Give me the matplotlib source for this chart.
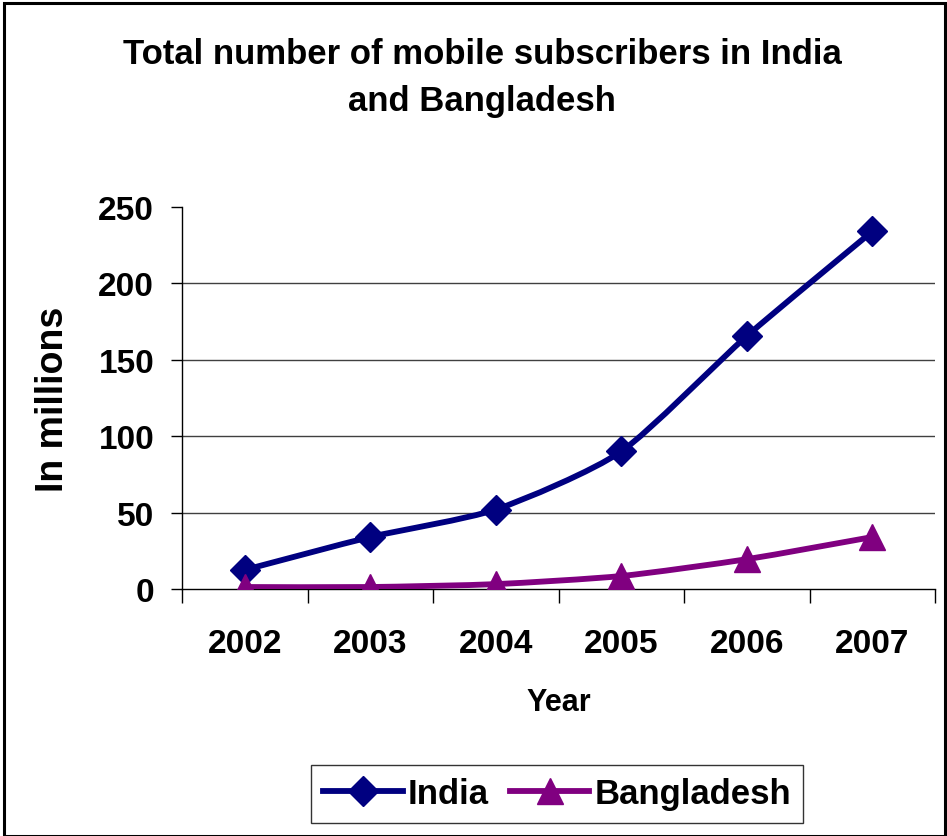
import numpy as np
import matplotlib
matplotlib.use("Agg")
import matplotlib.pyplot as plt
from matplotlib.path import Path
from matplotlib.patches import PathPatch, Rectangle
from matplotlib.lines import Line2D

# data
years = ["2002", "2003", "2004", "2005", "2006", "2007"]
india = [12.5, 34, 52, 90, 165.5, 234]
bangladesh = [1.3, 1.3, 3.2, 8.5, 19.5, 34]

plt.rcParams['font.family'] = ['Liberation Sans', 'DejaVu Sans']
plt.rcParams['font.weight'] = 'bold'


def smooth_path(xs, ys, k=9.0):
    # excel-style smoothed line, drawn as cubic bezier segments
    pts = np.column_stack([xs, ys]).astype(float)
    n = len(pts)
    verts = [pts[0]]
    codes = [Path.MOVETO]
    for i in range(n - 1):
        p0 = pts[i - 1] if i > 0 else pts[i]
        p1 = pts[i]
        p2 = pts[i + 1]
        p3 = pts[i + 2] if i + 2 < n else pts[i + 1]
        c1 = p1 + (p2 - p0) / k
        c2 = p2 - (p3 - p1) / k
        verts += [c1, c2, p2]
        codes += [Path.CURVE4] * 3
    return Path(verts, codes)


fig = plt.figure(figsize=(9.47, 8.37), dpi=100)
ax = fig.add_axes([182/947, 1 - 590/837, 753/947, 382/837])

x = np.arange(len(years))
navy = "#000080"
purple = "#800080"

for vals, col, mk, ms in [(india, navy, 'D', 15), (bangladesh, purple, '^', 19)]:
    ax.add_patch(PathPatch(smooth_path(x, vals), fill=False, edgecolor=col,
                           lw=4.2, capstyle='round', joinstyle='round', zorder=3))
    ax.plot(x, vals, linestyle='none', marker=mk, markersize=ms, color=col, zorder=4)

ax.set_xlim(-0.5, 5.5)
ax.set_ylim(0, 250)
ax.set_yticks([0, 50, 100, 150, 200, 250])
ax.set_xticks(x)
ax.set_xticklabels(years)
ax.set_xticks(np.arange(-0.5, 6, 1), minor=True)
ax.tick_params(axis='x', which='major', length=0, pad=28, labelsize=24)
ax.tick_params(axis='x', which='minor', length=10, width=1, direction='out')
ax.tick_params(axis='y', length=8, width=1, direction='out', labelsize=24, pad=12)

for y in [50, 100, 150, 200]:
    ax.axhline(y, color='#404040', lw=1, zorder=1)

ax.spines['top'].set_visible(False)
ax.spines['right'].set_visible(False)
ax.spines['left'].set_linewidth(1)
ax.spines['bottom'].set_linewidth(1)

ax.set_xlabel("Year", fontsize=22, fontweight='bold', labelpad=20)
ax.set_ylabel("In millions", fontsize=27, fontweight='bold', labelpad=20)

fig.text(482/947, 1 - 78/837, "Total number of mobile subscribers in India\nand Bangladesh",
         ha='center', va='center', fontsize=25, fontweight='bold', linespacing=1.5)

handles = [Line2D([], [], color=navy, lw=4.2, marker='D', markersize=15),
           Line2D([], [], color=purple, lw=4.2, marker='^', markersize=19)]
leg = fig.legend(handles, ["India", "Bangladesh"], loc='center',
                 bbox_to_anchor=(557/947, 1 - 795/837), ncol=2, fontsize=25,
                 frameon=True, fancybox=False, edgecolor='black', handlelength=2.3,
                 handletextpad=0.15, columnspacing=0.6, borderpad=0.35)
leg.get_frame().set_linewidth(1)

# outer border of the chart area
fig.patches.append(Rectangle((4/947, 0), 941/947, 1 - 4/837, transform=fig.transFigure,
                             fill=False, edgecolor='black', lw=2.2))

fig.savefig("out.png", dpi=100)
